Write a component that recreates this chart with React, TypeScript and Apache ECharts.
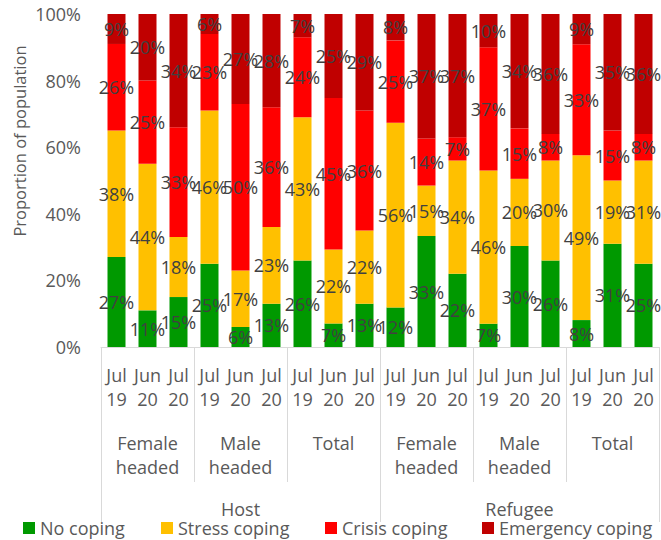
import React, { useEffect, useRef } from "react";
import * as echarts from "echarts";

const periods = [
  "Jul\n19", "Jun\n20", "Jul\n20",
  "Jul\n19", "Jun\n20", "Jul\n20",
  "Jul\n19", "Jun\n20", "Jul\n20",
  "Jul\n19", "Jun\n20", "Jul\n20",
  "Jul\n19", "Jun\n20", "Jul\n20",
  "Jul\n19", "Jun\n20", "Jul\n20",
];
const subgroups = ["Female\nheaded", "Male\nheaded", "Total", "Female\nheaded", "Male\nheaded", "Total"];
const populations = ["Host", "Refugee"];
const seriesNames = ["No coping", "Stress coping", "Crisis coping", "Emergency coping"];
const noCoping = [27, 11, 15, 25, 6, 13, 26, 7, 13, 12, 33, 22, 7, 30, 26, 8, 31, 25];
const stressCoping = [38, 44, 18, 46, 17, 23, 43, 22, 22, 56, 15, 34, 46, 20, 30, 49, 19, 31];
const crisisCoping = [26, 25, 33, 23, 50, 36, 24, 45, 36, 25, 14, 7, 37, 15, 8, 33, 15, 8];
const emergencyCoping = [9, 20, 34, 6, 27, 28, 7, 25, 29, 8, 37, 37, 10, 34, 36, 9, 35, 36];
const colors = ["#009900", "#FFC000", "#FF0000", "#C00000"];
const yAxisTitle = "Proportion of population";

const FONT = "'Open Sans', 'Noto Sans', sans-serif";
const TEXT = "#595959";
const FS = 18;

export default function App() {
  const ref = useRef<HTMLDivElement>(null);
  useEffect(() => {
    document.body.style.margin = "0";
    if (!ref.current) return;
    const chart = echarts.init(ref.current, null, { renderer: "svg" });
    const raw = [noCoping, stressCoping, crisisCoping, emergencyCoping];
    const totals = periods.map((_, i) => raw.reduce((s, arr) => s + arr[i], 0));
    const series = raw.map((arr, si) => ({
      name: seriesNames[si],
      type: "bar",
      stack: "total",
      xAxisIndex: 0,
      barWidth: 18,
      itemStyle: { color: colors[si] },
      label: {
        show: true,
        position: "inside",
        color: "#404040",
        fontSize: FS,
        fontFamily: FONT,
        formatter: (p: any) => raw[si][p.dataIndex] + "%",
      },
      data: arr.map((v, i) => (v / totals[i]) * 100),
    }));
    const legendLefts = [23, 161, 325, 482];
    chart.setOption({
      animation: false,
      grid: { left: 101, right: 2, top: 14, bottom: 193, containLabel: false },
      legend: seriesNames.map((n, i) => ({
        data: [n],
        left: legendLefts[i],
        top: 518,
        itemWidth: 12,
        itemHeight: 12,
        itemGap: 5,
        padding: 0,
        icon: "rect",
        textStyle: { color: TEXT, fontSize: FS, fontFamily: FONT, lineHeight: 20 },
      })),
      xAxis: [
        {
          type: "category",
          data: periods,
          position: "bottom",
          axisLine: { show: true, lineStyle: { color: "#d9d9d9" } },
          axisTick: { show: false },
          axisLabel: { interval: 0, color: TEXT, fontSize: FS, fontFamily: FONT, lineHeight: 24, margin: 16 },
        },
        {
          type: "category",
          data: subgroups,
          position: "bottom",
          axisLine: { show: false },
          axisTick: { show: true, interval: 0, length: 135, lineStyle: { color: "#d9d9d9" } },
          axisLabel: { interval: 0, color: TEXT, fontSize: FS, fontFamily: FONT, lineHeight: 24, margin: 84 },
        },
        {
          type: "category",
          data: populations,
          position: "bottom",
          axisLine: { show: false },
          axisTick: { show: true, interval: 0, length: 175, lineStyle: { color: "#d9d9d9" } },
          axisLabel: { interval: 0, color: TEXT, fontSize: FS, fontFamily: FONT, lineHeight: 22, margin: 151 },
        },
      ],
      yAxis: {
        type: "value",
        min: 0,
        max: 100,
        interval: 20,
        axisLine: { show: false },
        axisTick: { show: false },
        splitLine: { show: false },
        axisLabel: { formatter: "{value}%", color: TEXT, fontSize: FS, fontFamily: FONT, margin: 20 },
      },
      graphic: [
        {
          type: "text",
          x: 19,
          y: 141,
          rotation: Math.PI / 2,
          style: {
            text: yAxisTitle,
            fill: TEXT,
            fontSize: 16.5,
            fontFamily: FONT,
            align: "center",
            verticalAlign: "middle",
          },
        },
      ],
      series,
    });
    return () => chart.dispose();
  }, []);
  return <div ref={ref} style={{ width: 661, height: 540 }} />;
}
